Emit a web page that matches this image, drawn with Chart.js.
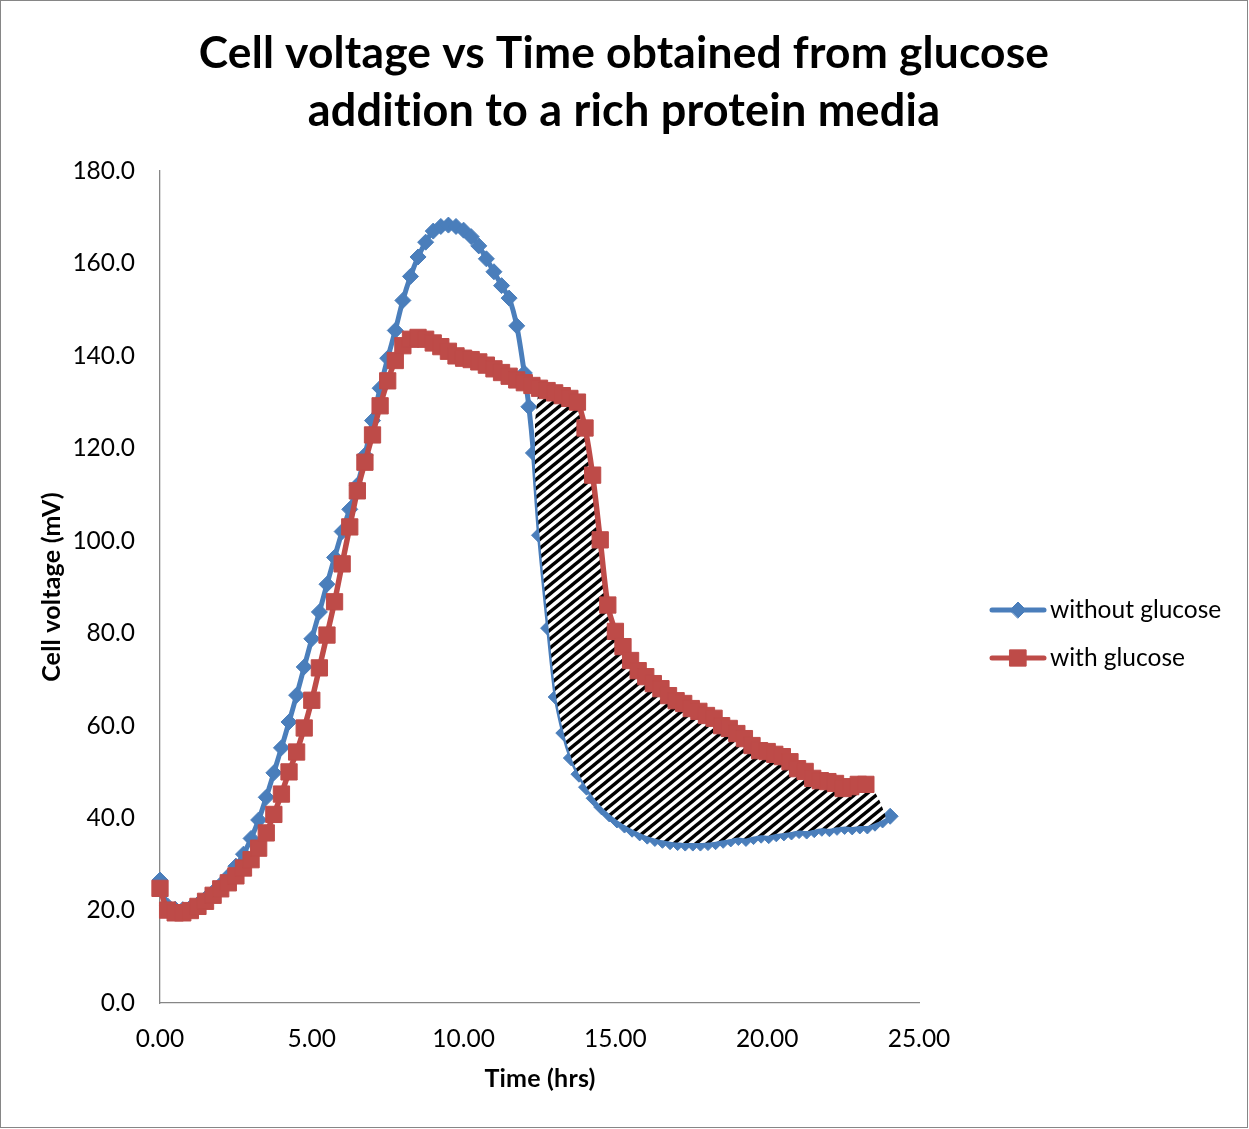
<!DOCTYPE html>
<html><head><meta charset="utf-8">
<script src="https://cdn.jsdelivr.net/npm/chart.js@4.4.1/dist/chart.umd.min.js"></script>
<style>html,body{margin:0;padding:0;background:#fff;} canvas{display:block;}</style>
</head><body>
<canvas id="c" width="1249" height="1129"></canvas>
<script>
// ---------- data ----------
const titleLines = ['Cell voltage vs Time obtained from glucose', 'addition to a rich protein media'];
const xTitle = 'Time (hrs)';
const yTitle = 'Cell voltage (mV)';
const seriesNames = ['without glucose', 'with glucose'];
const xTickValues = [0, 5, 10, 15, 20, 25];
const yTickValues = [0, 20, 40, 60, 80, 100, 120, 140, 160, 180];

const blueTimes = [0, 0.25, 0.5, 0.75, 1, 1.25, 1.5, 1.75, 2, 2.25, 2.5, 2.75, 3, 3.25, 3.5, 3.75,
  4, 4.25, 4.5, 4.75, 5, 5.25, 5.5, 5.75, 6, 6.25, 6.5, 6.75, 7, 7.25, 7.5, 7.75,
  8, 8.25, 8.5, 8.75, 9, 9.25, 9.5, 9.75, 10, 10.25, 10.5, 10.75, 11, 11.25, 11.5, 11.75,
  12, 12.15, 12.3, 12.5, 12.8, 13.05, 13.3, 13.55, 13.8, 14.05,
  14.3, 14.55, 14.8, 15.05, 15.3, 15.55, 15.8, 16.05, 16.3, 16.55, 16.8, 17.05, 17.3, 17.55,
  17.8, 18.05, 18.3, 18.55, 18.8, 19.05, 19.3, 19.55, 19.8, 20.05, 20.3, 20.55, 20.8, 21.05,
  21.3, 21.55, 21.8, 22.05, 22.3, 22.55, 22.8, 23.05, 23.3, 23.55, 23.8, 24.05];
const blueValues = [26.6, 21.0, 20.3, 20.2, 20.6, 21.4, 22.6, 24.0, 25.6, 27.4,
  29.6, 32.2, 35.6, 39.6, 44.5, 49.8, 55.2, 60.8, 66.6, 72.7,
  78.8, 84.6, 90.6, 96.4, 102.0, 106.8, 112.0, 118.5, 126.0, 133.0,
  139.5, 145.5, 152.0, 157.2, 161.4, 164.6, 167.0, 168.0, 168.3, 168.0,
  167.2, 165.8, 163.8, 161.0, 158.2, 155.2, 152.5, 146.5,
  136.3, 129.0, 119.0, 101.2, 81.1, 66.2, 58.4, 53.0, 49.5, 46.7,
  44.3, 42.4, 40.9, 39.6, 38.5, 37.6, 36.8, 36.1, 35.6, 35.2,
  34.9, 34.7, 34.6, 34.6, 34.6, 34.7, 34.9, 35.2, 35.5, 35.8,
  35.6, 36.0, 36.3, 36.2, 36.6, 36.8, 37.0, 37.3, 37.2, 37.5,
  37.8, 37.7, 38.0, 38.2, 38.1, 38.3, 38.3, 38.9, 39.6, 40.4];

const redTimes = [0, 0.25, 0.5, 0.75, 1, 1.25, 1.5, 1.75, 2, 2.25, 2.5, 2.75, 3, 3.25, 3.5, 3.75,
  4, 4.25, 4.5, 4.75, 5, 5.25, 5.5, 5.75, 6, 6.25, 6.5, 6.75, 7, 7.25, 7.5, 7.75,
  8, 8.25, 8.5, 8.75, 9, 9.25, 9.5, 9.75, 10, 10.25, 10.5, 10.75, 11, 11.25, 11.5, 11.75,
  12, 12.25, 12.5, 12.75, 13, 13.25, 13.5, 13.75, 14, 14.25, 14.5, 14.75, 15, 15.25, 15.5, 15.75,
  16, 16.25, 16.5, 16.75, 17, 17.25, 17.5, 17.75, 18, 18.25, 18.5, 18.75, 19, 19.25, 19.5, 19.75,
  20, 20.25, 20.5, 20.75, 21, 21.25, 21.5, 21.75, 22, 22.25, 22.5, 22.75, 23, 23.25];
const redValues = [24.8, 20.1, 19.5, 19.5, 20.0, 20.9, 22.0, 23.3, 24.7, 26.0,
  27.5, 29.2, 31.0, 33.5, 36.8, 40.8, 45.2, 50.0, 54.3, 59.5,
  65.5, 72.5, 79.6, 86.8, 95.0, 103.0, 110.8, 117.0, 122.9, 129.2,
  134.6, 139.0, 142.2, 143.6, 144.0, 143.6, 142.8, 142.0, 141.0, 140.0,
  139.5, 139.2, 138.7, 138.0, 137.2, 136.4, 135.6, 134.8, 134.2, 133.6,
  133.0, 132.5, 132.0, 131.4, 130.8, 130.0, 124.4, 114.2, 100.2, 86.1,
  80.4, 77.1, 74.1, 71.9, 70.6, 69.1, 68.0, 66.5, 65.4, 64.8,
  63.7, 63.1, 62.2, 61.6, 60.0, 59.4, 58.3, 57.2, 55.7, 54.6,
  54.4, 53.8, 53.3, 52.2, 50.7, 50.1, 48.6, 48.1, 47.9, 47.5,
  46.4, 46.8, 47.3, 47.3];

// upper edge of the hatched (shaded) region; its lower edge is the "without glucose" curve
const hatchTimes = [12.35, 12.45, 12.5, 12.75, 13, 13.25, 13.5, 13.75, 14, 14.25, 14.5, 14.75,
  15, 15.25, 15.5, 15.75, 16, 16.25, 16.5, 16.75, 17, 17.25, 17.5, 17.75, 18, 18.25, 18.5, 18.75,
  19, 19.25, 19.5, 19.75, 20, 20.25, 20.5, 20.75, 21, 21.25, 21.5, 21.75, 22, 22.25, 22.5, 22.75,
  23, 23.25, 23.6, 23.9];
const hatchUpper = [125.5, 131.5, 133.0, 132.5, 132.0, 131.4, 130.8, 130.0, 124.4, 114.2, 100.2, 86.1,
  80.4, 77.1, 74.1, 71.9, 70.6, 69.1, 68.0, 66.5, 65.4, 64.8, 63.7, 63.1, 62.2, 61.6, 60.0, 59.4,
  58.3, 57.2, 55.7, 54.6, 54.4, 53.8, 53.3, 52.2, 50.7, 50.1, 48.6, 48.1, 47.9, 47.5, 46.4, 46.8,
  47.3, 47.3, 45.0, 40.5];

// ---------- styles ----------
const BLUE = '#4A7EBB';
const RED = '#BE4B48';
const AXIS = '#868686';
const FONT = 'Lato, Carlito, "Open Sans", sans-serif';

function pts(xs, ys) { return xs.map((x, i) => ({x: x, y: ys[i]})); }

function makeHatch() {
  const W = 11, H = 9;
  const c = document.createElement('canvas');
  c.width = W; c.height = H;
  const g = c.getContext('2d');
  g.fillStyle = '#fff'; g.fillRect(0, 0, W, H);
  g.strokeStyle = '#000'; g.lineWidth = 3.4;
  for (let k = -2; k <= 2; k++) {
    g.beginPath(); g.moveTo(-W, 2 * H + k * H); g.lineTo(2 * W, -H + k * H); g.stroke();
  }
  return g.createPattern(c, 'repeat');
}

function noLig(ctx) { if ('letterSpacing' in ctx) ctx.letterSpacing = '0.2px'; }

const decor = {
  id: 'decor',
  beforeDraw(chart) {
    const ctx = chart.ctx;
    ctx.save(); ctx.fillStyle = '#fff'; ctx.fillRect(0, 0, chart.width, chart.height); ctx.restore();
  },
  afterDraw(chart) {
    const ctx = chart.ctx;
    ctx.save();
    ctx.strokeStyle = AXIS; ctx.lineWidth = 1;
    ctx.strokeRect(0.5, 0.5, chart.width - 2, chart.height - 2);
    ctx.fillStyle = '#000';
    ctx.textAlign = 'center'; ctx.textBaseline = 'alphabetic';
    noLig(ctx);
    ctx.font = 'bold 44.3px ' + FONT;
    ctx.fillText(titleLines[0], 624, 68);
    ctx.font = 'bold 45px ' + FONT;
    ctx.fillText(titleLines[1], 624, 126);
    ctx.font = 'bold 25px ' + FONT; ctx.textBaseline = 'middle';
    ctx.fillText(xTitle, 540, 1079);
    ctx.save(); ctx.translate(52, 587); ctx.rotate(-Math.PI / 2); ctx.fillText(yTitle, 0, 0); ctx.restore();
    if ('letterSpacing' in ctx) ctx.letterSpacing = '0px';
    // legend
    const ds = chart.data.datasets;
    [0, 1].forEach((i) => {
      const d = ds[i];
      const y = 610 + 48 * i;
      ctx.strokeStyle = d.borderColor; ctx.lineWidth = 5; ctx.lineCap = 'round';
      ctx.beginPath(); ctx.moveTo(992, y); ctx.lineTo(1044, y); ctx.stroke();
      ctx.fillStyle = d.pointBackgroundColor; ctx.strokeStyle = d.pointBorderColor; ctx.lineWidth = 1;
      Chart.helpers.drawPoint(ctx, {pointStyle: d.pointStyle, radius: d.pointRadius, borderWidth: 1, rotation: 0}, 1018, y);
      ctx.fillStyle = '#000'; ctx.font = '24.5px ' + FONT; ctx.textAlign = 'left'; ctx.textBaseline = 'middle';
      ctx.fillText(d.label, 1050, y);
    });
    ctx.restore();
  }
};

new Chart(document.getElementById('c'), {
  type: 'line',
  data: {
    datasets: [
      {
        label: seriesNames[0], data: pts(blueTimes, blueValues),
        borderColor: BLUE, borderWidth: 5, tension: 0.3,
        pointStyle: 'rectRot', pointRadius: 8, pointBackgroundColor: BLUE, pointBorderColor: BLUE, pointBorderWidth: 1,
        fill: false, order: 3, clip: false
      },
      {
        label: seriesNames[1], data: pts(redTimes, redValues),
        borderColor: RED, borderWidth: 5.5, tension: 0.3,
        pointStyle: 'rect', pointRadius: 11.5, pointBackgroundColor: RED, pointBorderColor: RED, pointBorderWidth: 1,
        fill: false, order: 1, clip: false
      },
      {
        label: 'hatch', data: pts(hatchTimes, hatchUpper),
        borderWidth: 0, borderColor: 'rgba(0,0,0,0)', pointRadius: 0, tension: 0.4,
        backgroundColor: makeHatch(), fill: {target: 0}, order: 2, clip: false
      }
    ]
  },
  options: {
    responsive: false, animation: false, devicePixelRatio: 1,
    layout: {padding: {left: 0, top: 171, right: 330, bottom: 0}},
    plugins: {legend: {display: false}, tooltip: {enabled: false}, title: {display: false}},
    scales: {
      x: {
        type: 'linear', min: 0, max: 25,
        afterFit: (s) => { s.height = 126; },
        afterBuildTicks: (s) => { s.ticks = xTickValues.map(v => ({value: v})); },
        grid: {display: false, drawTicks: false},
        border: {display: true, color: AXIS, width: 1.3},
        ticks: {color: '#000', font: {family: FONT, size: 24.5}, padding: 21, maxRotation: 0,
          callback: (v) => Number(v).toFixed(2)}
      },
      y: {
        type: 'linear', min: 0, max: 180,
        afterFit: (s) => { s.width = 160; },
        afterBuildTicks: (s) => { s.ticks = yTickValues.map(v => ({value: v})); },
        grid: {display: false, drawTicks: false},
        border: {display: true, color: AXIS, width: 1.3},
        ticks: {color: '#000', font: {family: FONT, size: 24.5}, padding: 25,
          callback: (v) => Number(v).toFixed(1)}
      }
    }
  },
  plugins: [decor]
});
</script>
</body></html>
